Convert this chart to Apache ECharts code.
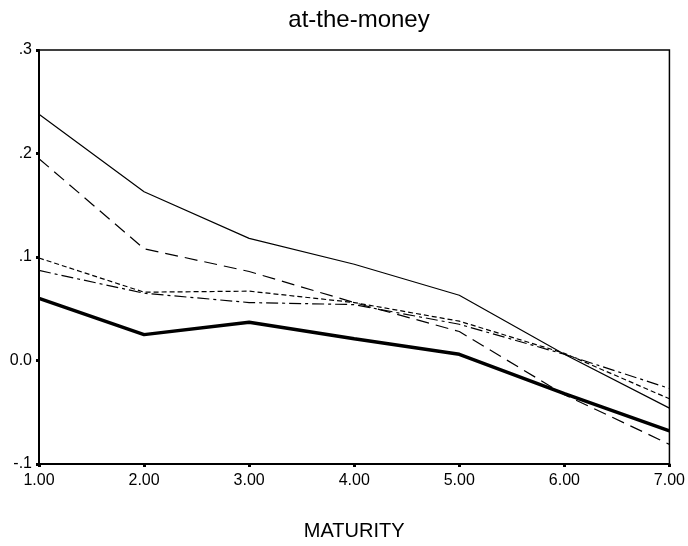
<!DOCTYPE html>
<html>
<head>
<meta charset="utf-8">
<script src="https://cdn.jsdelivr.net/npm/echarts@6/dist/echarts.min.js"></script>
<style>
  html, body { margin: 0; padding: 0; background: #fff; }
  #chart { width: 688px; height: 546px; }
</style>
</head>
<body>
<div id="chart"></div>
<script>
// Maturity values on the x axis
const maturity = [1, 2, 3, 4, 5, 6, 7];

// One series per line
const seriesSolid     = [0.238, 0.163, 0.118, 0.093, 0.063, 0.006, -0.046];
const seriesLongDash  = [0.195, 0.108, 0.086, 0.056, 0.028, -0.033, -0.081];
const seriesShortDash = [0.099, 0.066, 0.067, 0.056, 0.038, 0.007, -0.037];
const seriesDashDot   = [0.087, 0.065, 0.056, 0.054, 0.035, 0.006, -0.027];
const seriesThick     = [0.060, 0.025, 0.037, 0.021, 0.006, -0.032, -0.068];

const xTicks = { min: 1, max: 7, step: 1 };
const yTicks = { min: -0.1, max: 0.3, step: 0.1 };

function pairs(ys) { return maturity.map((x, i) => [x, ys[i]]); }

// ".3", ".2", ".1", "0.0", "-.1"
function yLabel(v) {
  const r = Math.round(v * 10) / 10;
  if (r === 0) return '0.0';
  return r.toFixed(1).replace(/^(-?)0\./, '$1.');
}

const font = 'Arial, "Liberation Sans", sans-serif';

function line(data, width, type) {
  return {
    type: 'line',
    data: pairs(data),
    symbol: 'none',
    silent: true,
    lineStyle: { color: '#000', width: width, type: type, cap: 'butt' }
  };
}

const chart = echarts.init(document.getElementById('chart'), null, { renderer: 'canvas' });
chart.setOption({
  animation: false,
  backgroundColor: '#fff',
  title: {
    text: 'at-the-money',
    left: 354,
    textAlign: 'center',
    top: 3,
    textStyle: { fontFamily: font, fontSize: 24, fontWeight: 'normal', color: '#000' }
  },
  grid: {
    left: 39, right: 18, top: 50, bottom: 82,
    show: true, borderColor: '#000', borderWidth: 1.5, backgroundColor: 'transparent'
  },
  xAxis: {
    type: 'value',
    min: xTicks.min, max: xTicks.max, interval: xTicks.step,
    name: 'MATURITY',
    nameLocation: 'middle',
    nameGap: 57,
    nameTextStyle: { fontFamily: font, fontSize: 20, color: '#000' },
    axisLine: { onZero: false, lineStyle: { color: '#000', width: 2 } },
    axisTick: { show: true, length: 3, lineStyle: { color: '#000', width: 3 } },
    axisLabel: {
      fontFamily: font, fontSize: 16, color: '#000', margin: 9,
      formatter: v => v.toFixed(2)
    },
    splitLine: { show: false }
  },
  yAxis: {
    type: 'value',
    min: yTicks.min, max: yTicks.max, interval: yTicks.step,
    axisLine: { onZero: false, lineStyle: { color: '#000', width: 2 } },
    axisTick: { show: true, length: 3, lineStyle: { color: '#000', width: 3 } },
    axisLabel: {
      fontFamily: font, fontSize: 16, color: '#000', margin: 7,
      formatter: yLabel
    },
    splitLine: { show: false }
  },
  series: [
    line(seriesSolid, 1.2, 'solid'),
    line(seriesLongDash, 1.2, [13, 7]),
    line(seriesShortDash, 1.2, [5, 3]),
    line(seriesDashDot, 1.2, [12, 4, 3, 4]),
    line(seriesThick, 3.5, 'solid')
  ]
});
</script>
</body>
</html>
